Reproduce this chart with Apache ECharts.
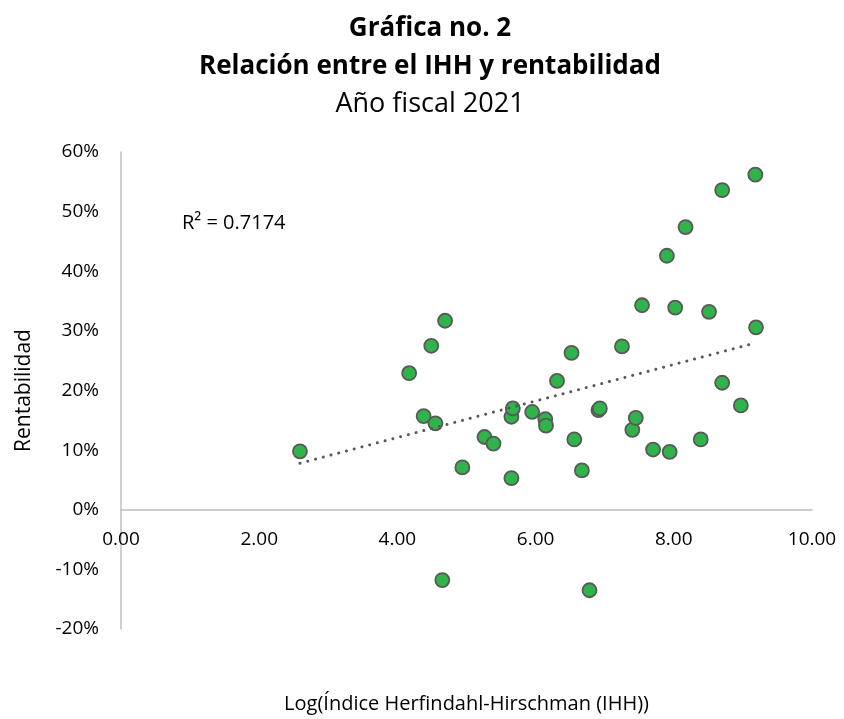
<!DOCTYPE html>
<html>
<head>
<meta charset="utf-8">
<title>Gráfica no. 2</title>
<script src="https://cdn.jsdelivr.net/npm/echarts@6/dist/echarts.min.js"></script>
<style>
  html, body { margin: 0; padding: 0; background: #fff; }
  #chart_ihh { width: 844px; height: 719px; }
</style>
</head>
<body>
<div id="chart_ihh"></div>
<script>
// Log(IHH) de cada punto
var logIHH = [
  2.59, 4.17, 4.38, 4.49, 4.55, 4.65, 4.69, 4.94, 5.26, 5.39,
  5.65, 5.65, 5.67, 5.95, 6.14, 6.15, 6.31, 6.52, 6.56, 6.67,
  6.78, 6.91, 6.93, 7.25, 7.40, 7.45, 7.54, 7.70, 7.90, 7.94,
  8.02, 8.17, 8.39, 8.51, 8.70, 8.70, 8.97, 9.18, 9.19
];
// rentabilidad en %
var rentabilidad = [
  9.8, 22.9, 15.7, 27.5, 14.5, -11.8, 31.7, 7.1, 12.2, 11.1,
  5.3, 15.6, 17.0, 16.4, 15.2, 14.1, 21.6, 26.3, 11.8, 6.6,
  -13.5, 16.7, 17.0, 27.4, 13.4, 15.4, 34.3, 10.1, 42.6, 9.7,
  33.9, 47.4, 11.8, 33.2, 53.6, 21.3, 17.5, 56.2, 30.6
];
// linea de tendencia (extremos)
var trendX = [2.59, 9.19];
var trendY = [7.8, 28.0];
var r2Text = 'R² = 0.7174';

var xTicks = [0, 10, 2];      // min, max, intervalo
var yTicks = [-20, 60, 10];

(function(){
  var chartDom = document.getElementById('chart_ihh');
  var myChart = echarts.init(chartDom);
  var font = '"Open Sans", "Noto Sans", sans-serif';

  var gridTop = 152, gridBottom = 90;
  var plotH = 719 - gridTop - gridBottom;
  // el eje X cruza en y = 0: se sube desde el borde inferior del grid
  var xOffset = -plotH * (0 - yTicks[0]) / (yTicks[1] - yTicks[0]);

  var pts = [];
  for (var i = 0; i < logIHH.length; i++) {
    pts.push([logIHH[i], rentabilidad[i]]);
  }
  var trend = [];
  for (var j = 0; j < trendX.length; j++) {
    trend.push([trendX[j], trendY[j]]);
  }

  myChart.setOption({
    animation: false,
    textStyle: { fontFamily: font },
    title: [
      { text: 'Gráfica no. 2', left: 425, top: 11, textAlign: 'center',
        textStyle: { fontSize: 26, fontWeight: 'bold', color: '#000', fontFamily: font } },
      { text: 'Relación entre el IHH y rentabilidad', left: 425, top: 49, textAlign: 'center',
        textStyle: { fontSize: 26, fontWeight: 'bold', color: '#000', fontFamily: font } },
      { text: 'Año fiscal 2021', left: 425, top: 86, textAlign: 'center',
        textStyle: { fontSize: 27, fontWeight: 'normal', color: '#000', fontFamily: font } }
    ],
    graphic: [{
      type: 'text',
      left: 182,
      top: 213,
      style: { text: r2Text, fontSize: 20, fill: '#000', fontFamily: font }
    }],
    grid: { left: 121, right: 32, top: gridTop, bottom: gridBottom, outerBoundsMode: 'none' },
    xAxis: {
      type: 'value',
      min: xTicks[0], max: xTicks[1], interval: xTicks[2],
      offset: xOffset,
      name: 'Log(Índice Herfindahl-Hirschman (IHH))',
      nameLocation: 'middle',
      nameGap: 185,
      nameTextStyle: { fontSize: 20, color: '#000' },
      axisLine: { onZero: false, lineStyle: { color: '#bfbfbf', width: 1.5 } },
      axisTick: { show: false },
      splitLine: { show: false },
      axisLabel: {
        margin: 20, fontSize: 19, color: '#000',
        formatter: function (v) { return v.toFixed(2); }
      }
    },
    yAxis: {
      type: 'value',
      min: yTicks[0], max: yTicks[1], interval: yTicks[2],
      name: 'Rentabilidad',
      nameLocation: 'middle',
      nameGap: 86,
      nameTextStyle: { fontSize: 21, color: '#000' },
      axisLine: { show: true, onZero: false, lineStyle: { color: '#bfbfbf', width: 1.5 } },
      axisTick: { show: false },
      splitLine: { show: false },
      axisLabel: { margin: 22, fontSize: 19, color: '#000', formatter: '{value}%' }
    },
    series: [
      {
        name: 'Rentabilidad',
        type: 'scatter',
        symbol: 'circle',
        symbolSize: 14,
        z: 2,
        itemStyle: { color: '#2fb34a', borderColor: '#595959', borderWidth: 1.8, opacity: 1 },
        data: pts
      },
      {
        name: 'Tendencia',
        type: 'line',
        showSymbol: false,
        symbol: 'none',
        z: 3,
        lineStyle: { color: '#595959', width: 3, type: [0.1, 7.9], cap: 'round' },
        data: trend
      }
    ]
  });

  window.addEventListener('resize', function () {
    myChart.resize();
  });
})();
</script>
</body>
</html>
